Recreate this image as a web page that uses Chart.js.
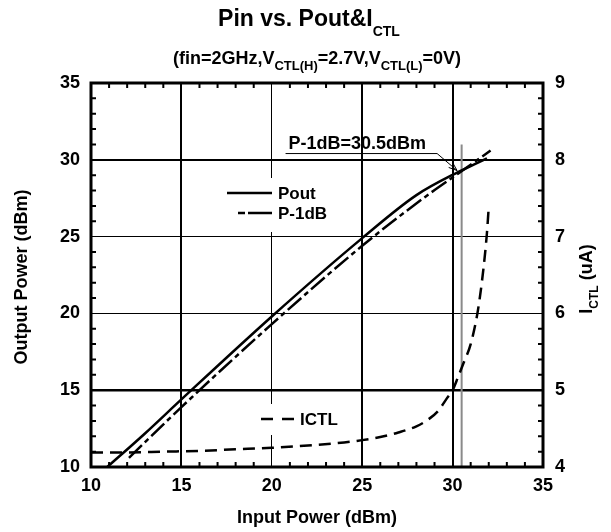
<!DOCTYPE html>
<html>
<head>
<meta charset="utf-8">
<script src="https://cdn.jsdelivr.net/npm/chart.js@4.4.0/dist/chart.umd.min.js"></script>
<style>
  html, body { margin: 0; padding: 0; background: #fff; }
  canvas { display: block; }
</style>
</head>
<body>
<canvas id="chart" width="611" height="532" style="width:611px;height:532px"></canvas>
<script>
// Pout (solid)
const pinPout = [10.9, 13, 15, 20, 25, 28, 30.3, 31.2, 31.9];
const pout = [10, 12.2, 14.4, 19.8, 24.9, 27.7, 29.2, 29.7, 30.1];

// P-1dB (dash-dot)
const pinP1dB = [12.1, 15, 20, 25, 28.5, 30.3, 32.1];
const p1dB = [10.6, 13.9, 19.3, 24.4, 27.6, 29.1, 30.6];

// ICTL (dashed, right axis)
const pinIctl = [10, 12, 14, 16, 18, 20, 22, 24, 25, 26, 27, 28, 28.6, 29.2, 29.7, 30, 30.3, 30.6, 31, 31.4, 31.7, 31.9, 32];
const ictl = [4.19, 4.19, 4.2, 4.21, 4.23, 4.25, 4.28, 4.32, 4.35, 4.39, 4.45, 4.53, 4.61, 4.73, 4.9, 5.0, 5.17, 5.35, 5.6, 6.04, 6.57, 7.05, 7.39];

// P-1dB marker line
const p1dBPin = 30.5;
const p1dBMarkerY = [10, 31];

// axis ranges
const xRange = [10, 35];
const yRange = [10, 35];
const y2Range = [4, 9];

const FONT = '"Liberation Sans", Arial, sans-serif';
const tickFont = { family: FONT, size: 18, weight: 'bold' };

const toPoints = (xs, ys) => xs.map((x, i) => ({ x: x, y: ys[i] }));

// line widths of grid lines by tick value
const xGridWidth = { 10: 0, 15: 2, 20: 1, 25: 2, 30: 2, 35: 0 };
const yGridWidth = { 10: 0, 15: 2.5, 20: 1, 25: 1, 30: 2, 35: 0 };

function drawRich(ctx, parts, x, y, align) {
    // parts: [text, size, dy]
    let total = 0;
    parts.forEach(p => { ctx.font = 'bold ' + p[1] + 'px ' + FONT; total += ctx.measureText(p[0]).width; });
    let cx = align === 'center' ? x - total / 2 : x;
    ctx.textAlign = 'left';
    ctx.textBaseline = 'alphabetic';
    parts.forEach(p => {
        ctx.font = 'bold ' + p[1] + 'px ' + FONT;
        ctx.fillText(p[0], cx, y + (p[2] || 0));
        cx += ctx.measureText(p[0]).width;
    });
}

const decorations = {
    id: 'decorations',
    beforeDatasetsDraw(chart) {
        const ctx = chart.ctx;
        // white legend boxes over the grid
        ctx.save();
        ctx.fillStyle = '#fff';
        ctx.fillRect(220, 178, 118, 54);
        ctx.fillRect(252, 404, 96, 31);
        ctx.restore();
    },
    afterDatasetsDraw(chart) {
        const { ctx, chartArea: a, scales } = chart;
        const x = scales.x, y = scales.y;
        ctx.save();
        ctx.strokeStyle = '#000';
        ctx.fillStyle = '#000';

        // minor ticks (inward)
        ctx.lineWidth = 2;
        ctx.beginPath();
        for (let v = xRange[0] + 1; v < xRange[1]; v++) {
            if (v % 5 === 0) continue;
            const px = x.getPixelForValue(v);
            ctx.moveTo(px, a.bottom); ctx.lineTo(px, a.bottom - 5);
            ctx.moveTo(px, a.top); ctx.lineTo(px, a.top + 5);
        }
        for (let v = yRange[0] + 1; v < yRange[1]; v++) {
            if (v % 5 === 0) continue;
            const py = y.getPixelForValue(v);
            ctx.moveTo(a.left, py); ctx.lineTo(a.left + 5, py);
            ctx.moveTo(a.right, py); ctx.lineTo(a.right - 5, py);
        }
        ctx.stroke();

        // frame
        ctx.lineWidth = 3;
        ctx.strokeRect(a.left, a.top, a.right - a.left, a.bottom - a.top);

        // legends
        ctx.lineWidth = 2.5;
        ctx.beginPath();
        ctx.moveTo(227, 193); ctx.lineTo(272, 193);
        ctx.stroke();
        ctx.setLineDash([7, 3, 24, 0]);
        ctx.beginPath();
        ctx.moveTo(238, 213); ctx.lineTo(272, 213);
        ctx.stroke();
        ctx.setLineDash([12, 9]);
        ctx.beginPath();
        ctx.moveTo(261, 419); ctx.lineTo(294, 419);
        ctx.stroke();
        ctx.setLineDash([]);
        ctx.font = 'bold 17px ' + FONT;
        ctx.textAlign = 'left';
        ctx.textBaseline = 'middle';
        ctx.fillText('Pout', 278, 194);
        ctx.fillText('P-1dB', 278, 214);
        ctx.fillText('ICTL', 300, 420);

        // P-1dB annotation with arrow
        const tx = x.getPixelForValue(30.25), ty = y.getPixelForValue(29.3);
        const ex = tx - 20, ey = ty - 17;
        ctx.font = 'bold 18px ' + FONT;
        ctx.textAlign = 'right';
        ctx.textBaseline = 'alphabetic';
        const label = 'P-1dB=30.5dBm';
        ctx.fillText(label, ex - 11, ey - 5);
        const w = ctx.measureText(label).width;
        ctx.lineWidth = 1;
        ctx.beginPath();
        ctx.moveTo(ex - 11 - w - 3, ey); ctx.lineTo(ex, ey); ctx.lineTo(tx, ty);
        ctx.stroke();
        const ang = Math.atan2(ty - ey, tx - ex);
        ctx.beginPath();
        ctx.moveTo(tx - 9 * Math.cos(ang - 0.35), ty - 9 * Math.sin(ang - 0.35));
        ctx.lineTo(tx, ty);
        ctx.lineTo(tx - 9 * Math.cos(ang + 0.35), ty - 9 * Math.sin(ang + 0.35));
        ctx.stroke();

        // title and subtitle
        drawRich(ctx, [['Pin vs. Pout&I', 23], ['CTL', 14, 10]], 309, 26, 'center');
        drawRich(ctx, [['(fin=2GHz,V', 18], ['CTL(H)', 13, 6], ['=2.7V,V', 18], ['CTL(L)', 13, 6], ['=0V)', 18]], 317, 64, 'center');

        // axis titles
        ctx.textAlign = 'center';
        ctx.textBaseline = 'middle';
        ctx.font = 'bold 18px ' + FONT;
        ctx.fillText('Input Power (dBm)', (a.left + a.right) / 2, 518);
        ctx.save();
        ctx.translate(22, (a.top + a.bottom) / 2 + 2);
        ctx.rotate(-Math.PI / 2);
        ctx.fillText('Output Power (dBm)', 0, 0);
        ctx.restore();
        ctx.save();
        ctx.translate(586, (a.top + a.bottom) / 2 + 4);
        ctx.rotate(-Math.PI / 2);
        drawRich(ctx, [['I', 18], ['CTL', 12, 6], [' (uA)', 18]], 0, 6, 'center');
        ctx.restore();

        ctx.restore();
    }
};

new Chart(document.getElementById('chart').getContext('2d'), {
    type: 'scatter',
    data: {
        datasets: [
            {
                label: 'Pout',
                data: toPoints(pinPout, pout),
                showLine: true,
                borderColor: '#000',
                borderWidth: 2.5,
                pointRadius: 0,
                cubicInterpolationMode: 'monotone',
                yAxisID: 'y'
            },
            {
                label: 'P-1dB',
                data: toPoints(pinP1dB, p1dB),
                showLine: true,
                borderColor: '#000',
                borderWidth: 2.5,
                borderDash: [18, 4, 5, 4],
                pointRadius: 0,
                cubicInterpolationMode: 'monotone',
                yAxisID: 'y'
            },
            {
                label: 'ICTL',
                data: toPoints(pinIctl, ictl),
                showLine: true,
                borderColor: '#000',
                borderWidth: 2.5,
                borderDash: [12, 7],
                pointRadius: 0,
                cubicInterpolationMode: 'monotone',
                yAxisID: 'y2'
            },
            {
                label: 'marker',
                data: p1dBMarkerY.map(v => ({ x: p1dBPin, y: v })),
                showLine: true,
                borderColor: '#8a8a8a',
                borderWidth: 2,
                pointRadius: 0,
                yAxisID: 'y'
            }
        ]
    },
    options: {
        responsive: false,
        animation: false,
        devicePixelRatio: 1,
        layout: { padding: { top: 83, left: 0, right: 0, bottom: 0 } },
        plugins: {
            legend: { display: false },
            tooltip: { enabled: false }
        },
        scales: {
            x: {
                type: 'linear',
                min: xRange[0],
                max: xRange[1],
                border: { display: false },
                grid: {
                    drawTicks: false,
                    color: '#000',
                    lineWidth: c => (c.tick ? (xGridWidth[c.tick.value] ?? 0) : 0)
                },
                ticks: { stepSize: 5, autoSkip: false, maxRotation: 0, color: '#000', font: tickFont, padding: 8 },
                afterFit: s => { s.height = 65; }
            },
            y: {
                position: 'left',
                min: yRange[0],
                max: yRange[1],
                border: { display: false },
                grid: {
                    drawTicks: false,
                    color: '#000',
                    lineWidth: c => (c.tick ? (yGridWidth[c.tick.value] ?? 0) : 0)
                },
                ticks: { stepSize: 5, color: '#000', font: tickFont, padding: 11 },
                afterFit: s => { s.width = 91; }
            },
            y2: {
                position: 'right',
                min: y2Range[0],
                max: y2Range[1],
                border: { display: false },
                grid: { display: false, drawTicks: false },
                ticks: { stepSize: 1, color: '#000', font: tickFont, padding: 12 },
                afterFit: s => { s.width = 68; }
            }
        }
    },
    plugins: [decorations]
});
</script>
</body>
</html>
